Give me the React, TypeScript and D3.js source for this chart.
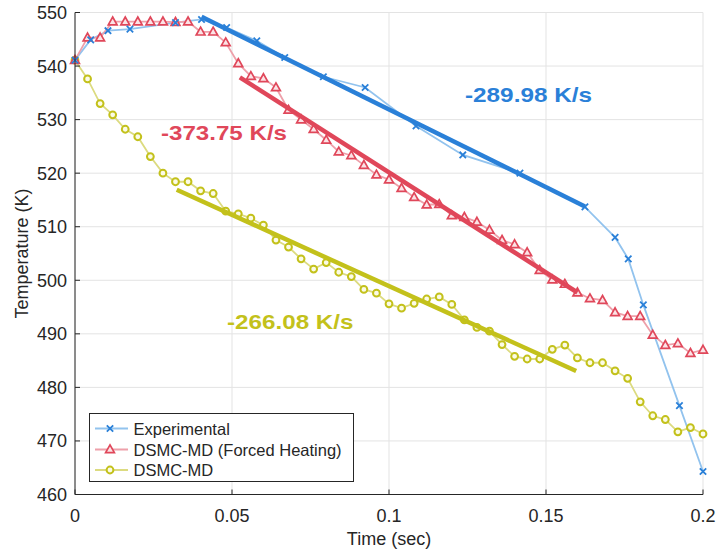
import React from "react";
import * as d3 from "d3";

// ---- data ----
const expTime = [0, 0.005, 0.0105, 0.0175, 0.032, 0.0403, 0.0483, 0.0579, 0.0668, 0.0791, 0.0924, 0.1086, 0.1235, 0.1417, 0.1624, 0.172, 0.1762, 0.181, 0.1925, 0.2];
const expTemp = [541.1, 544.9, 546.6, 546.9, 548.1, 548.7, 547.2, 544.7, 541.6, 538.0, 536.0, 528.8, 523.4, 520.0, 513.7, 508.0, 504.0, 495.4, 476.6, 464.3];

const simTime = [0, 0.004, 0.008, 0.012, 0.016, 0.02, 0.024, 0.028, 0.032, 0.036, 0.04, 0.044, 0.048, 0.052, 0.056, 0.06, 0.064, 0.068, 0.072, 0.076, 0.08, 0.084, 0.088, 0.092, 0.096, 0.1, 0.104, 0.108, 0.112, 0.116, 0.12, 0.124, 0.128, 0.132, 0.136, 0.14, 0.144, 0.148, 0.152, 0.156, 0.16, 0.164, 0.168, 0.172, 0.176, 0.18, 0.184, 0.188, 0.192, 0.196, 0.2];
const forcedTemp = [541.1, 545.3, 545.3, 548.3, 548.3, 548.3, 548.3, 548.3, 548.2, 548.3, 546.4, 546.4, 544.4, 540.5, 538.1, 537.7, 536.0, 531.8, 530.0, 528.2, 526.2, 524.0, 523.3, 521.5, 519.7, 518.8, 517.2, 515.5, 514.1, 514.2, 512.1, 511.8, 510.9, 509.4, 507.5, 506.7, 505.2, 501.9, 500.1, 499.3, 497.7, 496.6, 496.3, 494.0, 493.3, 493.3, 489.8, 487.9, 488.2, 486.4, 487.0];
const dsmcTemp = [541.1, 537.6, 533.0, 530.9, 528.2, 526.8, 523.1, 520.0, 518.4, 518.4, 516.7, 516.2, 512.9, 512.4, 511.6, 510.3, 507.5, 506.2, 504.0, 502.1, 503.3, 501.5, 500.7, 498.3, 497.6, 495.6, 494.8, 495.7, 496.5, 496.9, 495.5, 492.6, 491.2, 490.5, 488.0, 485.8, 485.3, 485.3, 487.1, 487.9, 485.5, 484.6, 484.6, 483.1, 481.7, 477.3, 474.7, 474.0, 471.7, 472.5, 471.3];

// linear fits: start time, end time, start temperature, slope (K/s)
const fitStart = [0.0403, 0.0525, 0.0324];
const fitEnd = [0.1624, 0.16, 0.1596];
const fitT0 = [549.2, 537.9, 516.9];
const fitSlope = [-289.98, -373.75, -266.08];
const fitLabels = ["-289.98 K/s", "-373.75 K/s", "-266.08 K/s"];

const seriesNames = ["Experimental", "DSMC-MD (Forced Heating)", "DSMC-MD"];
const xTicks = [0, 0.05, 0.1, 0.15, 0.2];
const xTickLabels = ["0", "0.05", "0.1", "0.15", "0.2"];
const yTicks = [460, 470, 480, 490, 500, 510, 520, 530, 540, 550];

// ---- styles ----
const W = 718, H = 556;
const L = 75, R = 703, T = 12.5, B = 494.5;
const dark = ["#2a80d8", "#e0475a", "#c3c11b"];
const light = ["#92c3ee", "#eea0aa", "#dcdb80"];
const font = "'Liberation Sans', Arial, Helvetica, sans-serif";

export default function App() {
  const x = d3.scaleLinear().domain([0, 0.2]).range([L, R]);
  const y = d3.scaleLinear().domain([460, 550]).range([B, T]);
  const line = d3.line<[number, number]>().x(d => x(d[0])).y(d => y(d[1]));

  const expPts: [number, number][] = expTime.map((t, i) => [t, expTemp[i]]);
  const forcedPts: [number, number][] = simTime.map((t, i) => [t, forcedTemp[i]]);
  const dsmcPts: [number, number][] = simTime.map((t, i) => [t, dsmcTemp[i]]);

  const xMark = (cx: number, cy: number, c: string, k: string | number, s = 3.2) => (
    <path key={k} d={`M${cx - s},${cy - s}L${cx + s},${cy + s}M${cx - s},${cy + s}L${cx + s},${cy - s}`} stroke={c} strokeWidth={1.8} fill="none" />
  );
  const triMark = (cx: number, cy: number, c: string, k: string | number) => (
    <path key={k} d={`M${cx},${cy - 4.6}L${cx + 4.4},${cy + 3.2}L${cx - 4.4},${cy + 3.2}Z`} stroke={c} strokeWidth={1.7} fill="#fbe3e6" />
  );
  const circMark = (cx: number, cy: number, c: string, k: string | number) => (
    <circle key={k} cx={cx} cy={cy} r={3.4} stroke={c} strokeWidth={2} fill="#fbfbe6" />
  );

  const fits = fitStart.map((t0, i) => {
    const t1 = fitEnd[i];
    const T1 = fitT0[i] + fitSlope[i] * (t1 - t0);
    return line([[t0, fitT0[i]], [t1, T1]]) as string;
  });

  const labelPos = [
    { x: 465, y: 102, w: 127 },
    { x: 161, y: 139.5, w: 126 },
    { x: 227, y: 328.5, w: 126.5 },
  ];

  const legX = 89.5, legY = 413.5, legW = 264, legH = 68;
  const legRows = [428.5, 449.5, 470];

  return (
    <svg width={W} height={H} style={{ position: "absolute", left: 0, top: 0, background: "#fff" }} fontFamily={font}>
      <rect x={0} y={0} width={W} height={H} fill="#fff" />
      {/* grid */}
      {xTicks.map((t, i) => (
        <line key={"gx" + i} x1={x(t)} x2={x(t)} y1={T} y2={B} stroke="#e3e3e3" strokeWidth={1} />
      ))}
      {yTicks.map((t, i) => (
        <line key={"gy" + i} x1={L} x2={R} y1={y(t)} y2={y(t)} stroke="#e3e3e3" strokeWidth={1} />
      ))}

      {/* data lines */}
      <path d={line(expPts) as string} fill="none" stroke={light[0]} strokeWidth={1.8} />
      <path d={line(forcedPts) as string} fill="none" stroke={light[1]} strokeWidth={1.8} />
      <path d={line(dsmcPts) as string} fill="none" stroke={light[2]} strokeWidth={1.8} />

      {/* markers */}
      {dsmcPts.map((p, i) => circMark(x(p[0]), y(p[1]), dark[2], "c" + i))}
      {forcedPts.map((p, i) => triMark(x(p[0]), y(p[1]), dark[1], "t" + i))}
      {expPts.map((p, i) => xMark(x(p[0]), y(p[1]), dark[0], "x" + i))}

      {/* fit lines */}
      {fits.map((d, i) => (
        <path key={"f" + i} d={d} fill="none" stroke={dark[i]} strokeWidth={4.5} strokeLinecap="butt" />
      ))}

      {/* fit labels */}
      {fitLabels.map((s, i) => (
        <text key={"fl" + i} x={labelPos[i].x} y={labelPos[i].y} fill={dark[i]} fontSize={21} fontWeight="bold"
          textLength={labelPos[i].w} lengthAdjust="spacingAndGlyphs">{s}</text>
      ))}

      {/* axes */}
      <line x1={L} x2={L} y1={T} y2={B} stroke="#262626" strokeWidth={1} />
      <line x1={L} x2={R} y1={B} y2={B} stroke="#262626" strokeWidth={1} />
      {xTicks.map((t, i) => (
        <g key={"xt" + i}>
          <line x1={x(t)} x2={x(t)} y1={B} y2={B - 5} stroke="#262626" />
          <text x={x(t)} y={521.5} textAnchor="middle" fontSize={18} fill="#262626">{xTickLabels[i]}</text>
        </g>
      ))}
      {yTicks.map((t, i) => (
        <g key={"yt" + i}>
          <line x1={L} x2={L + 5} y1={y(t)} y2={y(t)} stroke="#262626" />
          <text x={67} y={y(t) + 6.5} textAnchor="end" fontSize={18} fill="#262626">{t}</text>
        </g>
      ))}
      <text x={(L + R) / 2} y={545} textAnchor="middle" fontSize={18} fill="#262626">Time (sec)</text>
      <text transform={`translate(28,${(T + B) / 2}) rotate(-90)`} textAnchor="middle" fontSize={18} fill="#262626">Temperature (K)</text>

      {/* legend */}
      <rect x={legX} y={legY} width={legW} height={legH} fill="#fff" stroke="#262626" strokeWidth={1} />
      {seriesNames.map((s, i) => {
        const cy = legRows[i];
        const cx = 110;
        return (
          <g key={"lg" + i}>
            <line x1={95} x2={128} y1={cy} y2={cy} stroke={light[i]} strokeWidth={1.8} />
            {i === 0 ? xMark(cx, cy, dark[0], "lx") : i === 1 ? triMark(cx, cy, dark[1], "lt") : circMark(cx, cy, dark[2], "lc")}
            <text x={133.5} y={cy + 6} fontSize={16.5} fill="#262626">{s}</text>
          </g>
        );
      })}
    </svg>
  );
}
